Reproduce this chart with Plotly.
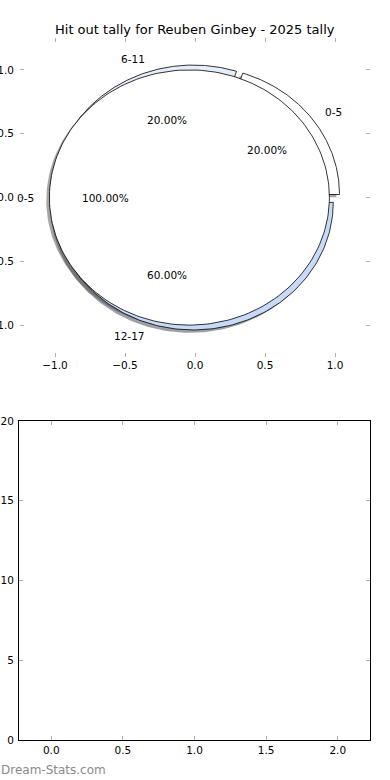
import numpy as np
import plotly.graph_objects as go

# ---- data ----
title = "Hit out tally for Reuben Ginbey - 2025 tally"
outer_labels = ["0-5", "6-11", "12-17"]
outer_values = [1, 1, 3]
outer_colors = ["#ffffff", "#e6eefb", "#c7dbf8"]
inner_labels = ["0-5"]
inner_values = [1]
inner_colors = ["#ffffff"]
explode = 0.04
pie_ticks = [-1.0, -0.5, 0.0, 0.5, 1.0]
bar_xticks = [0.0, 0.5, 1.0, 1.5, 2.0]
bar_yticks = [0, 5, 10, 15, 20]

FONT = "DejaVu Sans"
fig = go.Figure()


def hex_shadow(c):
    c = c.lstrip("#")
    r, g, b = (int(c[i:i + 2], 16) for i in (0, 2, 4))
    return "rgba(%d,%d,%d,0.5)" % (r * 0.3, g * 0.3, b * 0.3)


def wedges(values, colors):
    vals = np.asarray(values, float)
    frac = vals / vals.sum()
    out = []
    start = 0.0
    for f, col in zip(frac, colors):
        t1, t2 = start, start + 360 * f
        mid = np.deg2rad((t1 + t2) / 2)
        cx, cy = explode * np.cos(mid), explode * np.sin(mid)
        th = np.deg2rad(np.linspace(t1, t2, 200))
        xs = cx + np.cos(th)
        ys = cy + np.sin(th)
        if f < 0.999999:
            xs = np.concatenate([[cx], xs, [cx]])
            ys = np.concatenate([[cy], ys, [cy]])
        out.append(dict(x=xs, y=ys, col=col, mid=mid, cx=cx, cy=cy, f=f))
        start = t2
    return out


outer = wedges(outer_values, outer_colors)
inner = wedges(inner_values, inner_colors)

# shadows (beneath all wedges)
sh = 0.022
for w in outer + inner:
    fig.add_trace(go.Scatter(x=w["x"] - sh, y=w["y"] - sh, mode="lines", fill="toself",
                             fillcolor=hex_shadow(w["col"]), line=dict(width=0),
                             hoverinfo="skip", showlegend=False, xaxis="x", yaxis="y"))
# wedges
for w in outer + inner:
    fig.add_trace(go.Scatter(x=w["x"], y=w["y"], mode="lines", fill="toself",
                             fillcolor=w["col"], line=dict(color="black", width=0.8),
                             hoverinfo="skip", showlegend=False, xaxis="x", yaxis="y"))

annotations = []
for group, labels in ((outer, outer_labels), (inner, inner_labels)):
    for w, lab in zip(group, labels):
        lx = w["cx"] + 1.1 * np.cos(w["mid"])
        ly = w["cy"] + 1.1 * np.sin(w["mid"])
        annotations.append(dict(x=lx, y=ly, xref="x", yref="y", text=lab, showarrow=False,
                                xanchor="left" if lx > 0 else "right", yanchor="middle",
                                borderpad=0,
                                font=dict(family=FONT, size=10.5, color="black")))
        px = w["cx"] + 0.6 * np.cos(w["mid"])
        py = w["cy"] + 0.6 * np.sin(w["mid"])
        annotations.append(dict(x=px, y=py, xref="x", yref="y", text="%.2f%%" % (w["f"] * 100),
                                showarrow=False, xanchor="center", yanchor="middle",
                                font=dict(family=FONT, size=10.5, color="black")))

annotations.append(dict(x=195 / 390, y=1 - 30 / 780, xref="paper", yref="paper", text=title,
                        showarrow=False, xanchor="center", yanchor="middle",
                        font=dict(family=FONT, size=13, color="black")))
annotations.append(dict(x=0, y=1 - 770 / 780, xref="paper", yref="paper", text="Dream-Stats.com",
                        showarrow=False, xanchor="left", yanchor="middle", borderpad=0,
                        font=dict(family=FONT, size=12, color="#8a8a8a")))

# empty bottom axes: invisible point to establish the axes
fig.add_trace(go.Scatter(x=[None], y=[None], xaxis="x2", yaxis="y2", showlegend=False))

tick_common = dict(ticks="inside", ticklen=4, tickcolor="#b0b0b0", tickwidth=1,
                   showgrid=False, zeroline=False, automargin=False,
                   tickfont=dict(family=FONT, size=10.5, color="black"))

fig.update_layout(
    width=390, height=780,
    margin=dict(l=0, r=0, t=0, b=0),
    paper_bgcolor="white", plot_bgcolor="white",
    showlegend=False,
    annotations=annotations,
    xaxis=dict(domain=[20 / 390, 370 / 390], range=[-1.25, 1.25], tickvals=pie_ticks,
               tickformat=".1f", showline=False, mirror="ticks", anchor="y", **tick_common),
    yaxis=dict(domain=[1 - 357 / 780, 1 - 38 / 780], range=[-1.25, 1.25], tickvals=pie_ticks,
               tickformat=".1f", showline=False, mirror="ticks", anchor="x",
               ticklabelstandoff=5, **tick_common),
    xaxis2=dict(domain=[19 / 390, 370 / 390], range=[-0.225, 2.225], tickvals=bar_xticks,
                tickformat=".1f", showline=True, linecolor="black", linewidth=1, mirror="ticks",
                anchor="y2", **tick_common),
    yaxis2=dict(domain=[1 - 740 / 780, 1 - 421 / 780], range=[0, 20], tickvals=bar_yticks,
                showline=True, linecolor="black", linewidth=1, mirror="ticks",
                anchor="x2", ticklabelstandoff=2, **tick_common),
)

fig.write_html("out.html", config={"displayModeBar": False},
               post_script="document.body.style.margin='0';document.body.style.overflow='hidden';")
